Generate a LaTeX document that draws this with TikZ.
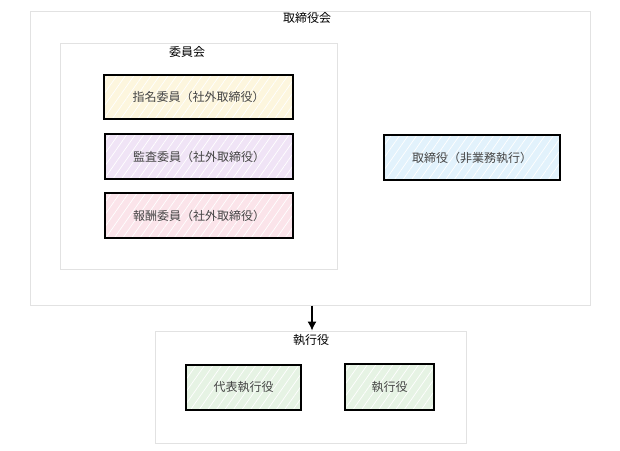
\documentclass[tikz,border=0pt]{standalone}
\usepackage{fontspec}
\setmainfont{Noto Sans CJK JP}
\usetikzlibrary{patterns.meta}
\usetikzlibrary{arrows.meta}

\definecolor{nomfill}{HTML}{FDF6DE}
\definecolor{audfill}{HTML}{F0E4F6}
\definecolor{payfill}{HTML}{FBE4EA}
\definecolor{dirfill}{HTML}{E2F2FC}
\definecolor{exefill}{HTML}{E6F3E4}
\definecolor{framegray}{HTML}{E2E2E2}
\definecolor{txtgray}{HTML}{444444}

\tikzset{
  frame/.style={draw=framegray,line width=1pt,inner sep=0pt},
  role/.style={draw=black,line width=1.3pt,inner sep=0pt,text=txtgray,font=\fontsize{12}{14}\selectfont,
    preaction={fill=#1},
    preaction={pattern={Lines[angle=55,distance=7pt,line width=0.7pt]},pattern color=white}},
  title/.style={font=\fontsize{12}{14}\selectfont,text=black}
}

\begin{document}
\begin{tikzpicture}[x=1pt,y=-1pt]
\useasboundingbox (0,0) rectangle (620,450);
\node[frame,minimum width=560pt,minimum height=294pt] (board) at (310,158) {};
\node[title] (boardlbl) at (307,18) {取締役会};
\node[frame,minimum width=277pt,minimum height=226pt] (comm) at (198.5,156) {};
\node[title] (commlbl) at (187,52) {委員会};
\node[role=nomfill,minimum width=189pt,minimum height=44pt] (nom) at (198.5,97) {指名委員（社外取締役）};
\node[role=audfill,minimum width=188pt,minimum height=45pt] (aud) at (199,156.5) {監査委員（社外取締役）};
\node[role=payfill,minimum width=188pt,minimum height=45pt] (pay) at (199,215.5) {報酬委員（社外取締役）};
\node[role=dirfill,minimum width=176pt,minimum height=45pt] (dir) at (472,157.5) {取締役（非業務執行）};
\node[frame,minimum width=311pt,minimum height=112pt] (exec) at (310.5,387) {};
\node[title] (execlbl) at (311,340) {執行役};
\node[role=exefill,minimum width=115pt,minimum height=45pt] (rep) at (243.5,387.5) {代表執行役};
\node[role=exefill,minimum width=89pt,minimum height=46pt] (off) at (389.5,387) {執行役};
\draw[-{Latex[length=9pt,width=9pt]},line width=1.1pt] (board.south -| 312,0) -- (exec.north -| 312,0);
\end{tikzpicture}
\end{document}
